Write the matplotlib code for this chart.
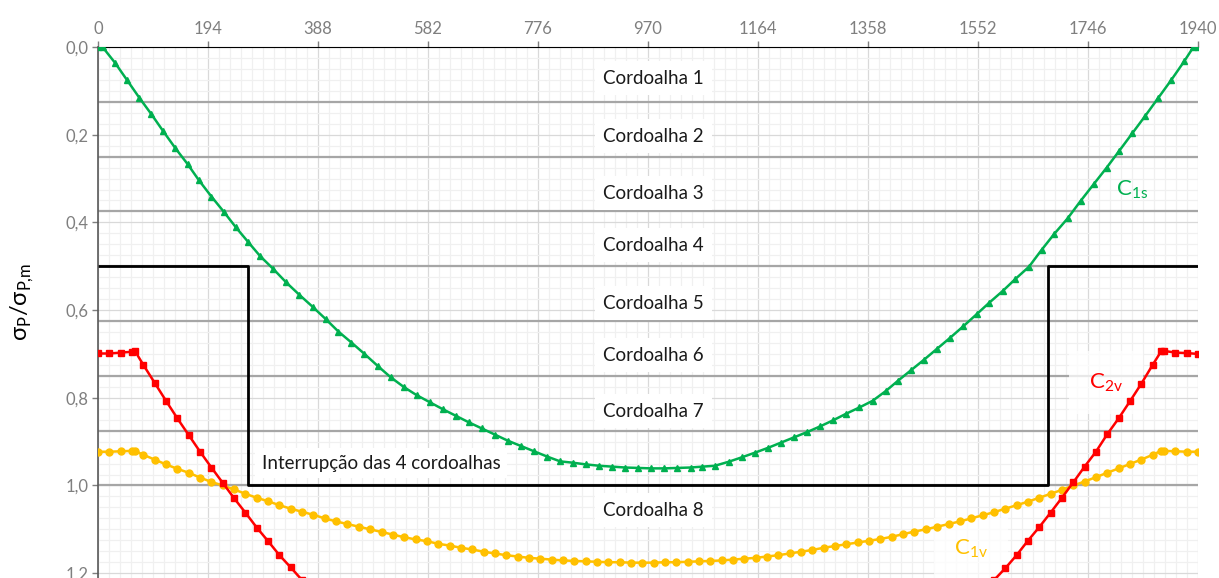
import numpy as np
import matplotlib
matplotlib.use("Agg")
import matplotlib.pyplot as plt
from matplotlib.ticker import MultipleLocator, FuncFormatter

plt.rcParams['font.family'] = ['Lato', 'DejaVu Sans']

# stations along the beam for the C1v / C2v curves
x_v = [0, 20, 40, 60, 65, 80, 100, 120, 140, 160, 180, 200, 220, 240, 260, 280, 300, 320, 340, 360,
       380, 400, 420, 440, 460, 480, 500, 520, 540, 560, 580, 600, 620, 640, 660, 680, 700, 720, 740, 760,
       780, 800, 820, 840, 860, 880, 900, 920, 940, 960, 980, 1000, 1020, 1040, 1060, 1080, 1100, 1120,
       1140, 1160, 1180, 1200, 1220, 1240, 1260, 1280, 1300, 1320, 1340, 1360, 1380, 1400, 1420, 1440,
       1460, 1480, 1500, 1520, 1540, 1560, 1580, 1600, 1620, 1640, 1660, 1680, 1700, 1720, 1740, 1760,
       1780, 1800, 1820, 1840, 1860, 1875, 1880, 1900, 1920, 1940]
c1v = [0.923, 0.923, 0.922, 0.921, 0.921, 0.930, 0.941, 0.952, 0.962, 0.971, 0.982, 0.992, 1.000, 1.009,
       1.019, 1.028, 1.036, 1.045, 1.053, 1.060, 1.067, 1.075, 1.082, 1.088, 1.094, 1.100, 1.106, 1.112,
       1.118, 1.123, 1.127, 1.133, 1.137, 1.142, 1.146, 1.151, 1.155, 1.159, 1.162, 1.165, 1.167, 1.169,
       1.171, 1.172, 1.173, 1.174, 1.175, 1.175, 1.176, 1.176, 1.176, 1.175, 1.175, 1.174, 1.173, 1.172,
       1.171, 1.169, 1.167, 1.165, 1.162, 1.159, 1.155, 1.151, 1.147, 1.142, 1.138, 1.134, 1.130, 1.126,
       1.122, 1.117, 1.111, 1.105, 1.100, 1.094, 1.088, 1.082, 1.075, 1.068, 1.061, 1.053, 1.045, 1.037,
       1.028, 1.019, 1.010, 1.000, 0.991, 0.981, 0.971, 0.961, 0.951, 0.941, 0.930, 0.921, 0.921, 0.922,
       0.923, 0.923]

# C2v runs off the bottom of the chart in the middle, only the two ends are visible
c2v_left_x = [0, 20, 40, 60, 65, 80, 100, 120, 140, 160, 180, 200, 220, 240, 260, 280, 300, 320, 340, 360]
c2v_left = [0.699, 0.699, 0.697, 0.695, 0.693, 0.725, 0.766, 0.807, 0.847, 0.885, 0.923, 0.959, 0.994,
            1.029, 1.062, 1.096, 1.127, 1.159, 1.187, 1.216]
c2v_right_x = [1580, 1600, 1620, 1640, 1660, 1680, 1700, 1720, 1740, 1760, 1780, 1800, 1820, 1840, 1860,
               1875, 1880, 1900, 1920, 1940]
c2v_right = [1.216, 1.189, 1.159, 1.126, 1.095, 1.062, 1.028, 0.993, 0.957, 0.923, 0.883, 0.847, 0.808,
             0.768, 0.725, 0.694, 0.693, 0.697, 0.698, 0.700]

# C1s
x_s = [0, 8, 30, 51, 73, 94, 115, 136, 158, 178, 200, 222, 243, 265, 286, 309, 332, 355, 379, 402,
       424, 447, 470, 493, 516, 540, 562, 585, 608, 631, 654, 677, 700, 723, 746, 769, 792, 815, 837, 861,
       884, 907, 929, 953, 975, 999, 1022, 1045, 1066, 1088, 1112, 1135, 1159, 1182, 1205, 1228, 1251,
       1274, 1297, 1320, 1343, 1366, 1389, 1411, 1434, 1457, 1480, 1503, 1526, 1550, 1572, 1596, 1618,
       1642, 1664, 1686, 1710, 1733, 1756, 1779, 1801, 1824, 1847, 1870, 1893, 1916, 1932, 1940]
c1s = [0.000, 0.000, 0.036, 0.075, 0.116, 0.153, 0.192, 0.230, 0.267, 0.304, 0.341, 0.376, 0.411, 0.445,
       0.477, 0.506, 0.537, 0.565, 0.593, 0.621, 0.649, 0.674, 0.700, 0.727, 0.753, 0.776, 0.794, 0.810,
       0.826, 0.841, 0.856, 0.870, 0.884, 0.898, 0.910, 0.922, 0.934, 0.945, 0.948, 0.952, 0.955, 0.957,
       0.959, 0.960, 0.961, 0.961, 0.960, 0.959, 0.957, 0.955, 0.946, 0.936, 0.925, 0.914, 0.902, 0.890,
       0.878, 0.865, 0.851, 0.836, 0.822, 0.807, 0.785, 0.761, 0.737, 0.713, 0.688, 0.663, 0.637, 0.609,
       0.583, 0.556, 0.529, 0.501, 0.463, 0.427, 0.391, 0.351, 0.313, 0.275, 0.237, 0.197, 0.157, 0.116,
       0.075, 0.032, 0.000, 0.000]

# strand boundaries and names
strand_lines = [0.125, 0.25, 0.375, 0.5, 0.625, 0.75, 0.875, 1.0]
strand_names = ['Cordoalha 1', 'Cordoalha 2', 'Cordoalha 3', 'Cordoalha 4',
                'Cordoalha 5', 'Cordoalha 6', 'Cordoalha 7', 'Cordoalha 8']
strand_name_y = [0.071, 0.203, 0.333, 0.452, 0.584, 0.703, 0.831, 1.056]

# outline of the 4 interrupted strands
cut_x = [0, 265, 265, 1675, 1675, 1940]
cut_y = [0.5, 0.5, 1.0, 1.0, 0.5, 0.5]

green = '#00B050'
red = '#FF0000'
yellow = '#FFC000'

fig = plt.figure(figsize=(12.19, 5.78), dpi=100)
ax = fig.add_axes([98 / 1219, 0, 1100 / 1219, 531 / 578])

ax.set_xlim(0, 1940)
ax.set_ylim(1.211, 0)

ax.xaxis.set_major_locator(MultipleLocator(194))
ax.xaxis.set_minor_locator(MultipleLocator(19.4))
ax.yaxis.set_major_locator(MultipleLocator(0.2))
ax.yaxis.set_minor_locator(MultipleLocator(0.025))
ax.yaxis.set_major_formatter(FuncFormatter(lambda v, p: f"{v:.1f}".replace('.', ',')))
ax.xaxis.set_major_formatter(FuncFormatter(lambda v, p: f"{v:.0f}"))
ax.xaxis.tick_top()

ax.grid(which='major', color='#d9d9d9', lw=0.9, zorder=0)
ax.grid(which='minor', color='#f0f0f0', lw=0.9, zorder=0)
ax.set_axisbelow(True)

ax.tick_params(which='major', length=4, width=1, color='#7f7f7f', labelcolor='#7f7f7f',
               labelsize=12, pad=3)
ax.tick_params(which='minor', length=0)
for s in ['right', 'bottom']:
    ax.spines[s].set_visible(False)
ax.spines['top'].set_color('black')
ax.spines['left'].set_color('#595959')
ax.spines['left'].set_linewidth(1.2)

for yv in strand_lines:
    ax.axhline(yv, color='#a6a6a6', lw=1.6, zorder=1)

ax.plot(cut_x, cut_y, color='black', lw=2, zorder=1.8)

for name, yv in zip(strand_names, strand_name_y):
    ax.text(980, yv, name, ha='center', va='center', fontsize=13.5, color='#1a1a1a', zorder=1.6,
            bbox=dict(boxstyle='square,pad=0.45', facecolor='white', edgecolor='none'))

ax.text(289, 0.949, 'Interrupção das 4 cordoalhas', ha='left', va='center', fontsize=13.5,
        color='#1a1a1a', zorder=1.6,
        bbox=dict(boxstyle='square,pad=0.35', facecolor='white', edgecolor='none'))

ax.plot(x_s, c1s, color=green, lw=1.8, marker='^', ms=5, zorder=3)
ax.plot(x_v, c1v, color=yellow, lw=1.8, marker='o', ms=5, zorder=3)
ax.plot(c2v_left_x, c2v_left, color=red, lw=1.8, marker='s', ms=5, zorder=3)
ax.plot(c2v_right_x, c2v_right, color=red, lw=1.8, marker='s', ms=5, zorder=3)

lab_box = dict(boxstyle='square,pad=0.9', facecolor='white', edgecolor='none', alpha=0.75)
ax.text(1824, 0.325, r'C$_\mathregular{1s}$', color=green, fontsize=16, ha='center', va='center')
ax.text(1778, 0.765, r'C$_\mathregular{2v}$', color=red, fontsize=16, ha='center', va='center',
        zorder=2.5, bbox=lab_box)
ax.text(1540, 1.145, r'C$_\mathregular{1v}$', color=yellow, fontsize=16, ha='center', va='center',
        zorder=2.5, bbox=lab_box)

fig.text(22 / 1219, 1 - 302 / 578, r'σ$_\mathregular{P}$/σ$_\mathregular{P{,}m}$', rotation=90,
         ha='center', va='center', fontsize=17, color='black')

fig.savefig('out.png', dpi=100)
